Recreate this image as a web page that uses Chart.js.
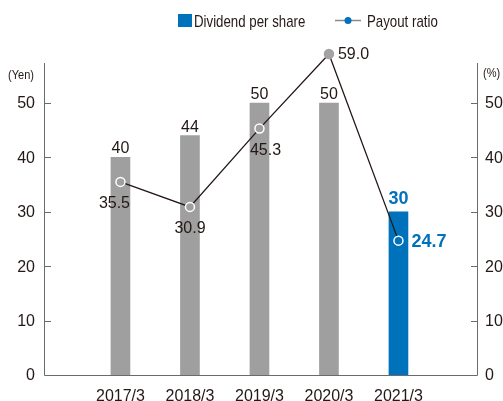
<!DOCTYPE html>
<html>
<head>
<meta charset="utf-8">
<script src="https://cdn.jsdelivr.net/npm/chart.js@4"></script>
<style>
  html, body { margin: 0; padding: 0; background: #fff; }
  #wrap { width: 503px; height: 401px; }
</style>
</head>
<body>
<div id="wrap"><canvas id="chart" width="503" height="401"></canvas></div>
<script>
// data
const categories = ['2017/3', '2018/3', '2019/3', '2020/3', '2021/3'];
const dividend = [40, 44, 50, 50, 30];
const payout = [35.5, 30.9, 45.3, 59.0, 24.7];
const yTicks = [0, 10, 20, 30, 40, 50];

// where each payout label sits relative to its point
const payoutLabelPos = ['below-left', 'below', 'below-right', 'right', 'right'];

const FONT = '"Liberation Sans", Arial, sans-serif';
const GREY = '#9f9f9f';
const BLUE = '#0072bc';
const TEXT = '#231815';
const AXIS = '#6b6b6b';
const AXIS_TOP = 57.35; // axis lines stop here, the 59.0 point sits above them

const barColors = dividend.map((v, i) => i === dividend.length - 1 ? BLUE : GREY);
const pointFill = payout.map((v, i) => i === 3 ? '#a3a3a3' : barColors[i]);
const pointBorder = payout.map((v, i) => i === 3 ? '#a3a3a3' : '#ffffff');

// canvas text with a horizontal squeeze (the original uses a condensed face)
function text(ctx, s, x, y, align, sx) {
  ctx.save();
  ctx.translate(x, y);
  ctx.scale(sx || 1, 1);
  ctx.textAlign = align;
  ctx.fillText(s, 0, 0);
  ctx.restore();
}

const decor = {
  id: 'decor',
  beforeDatasetsDraw(chart) {
    const ctx = chart.ctx;
    const a = chart.chartArea;
    const y = chart.scales.y;
    const top = y.getPixelForValue(AXIS_TOP);
    ctx.save();
    ctx.strokeStyle = AXIS;
    ctx.lineWidth = 1;
    ctx.beginPath();
    ctx.moveTo(a.left + 0.5, top);
    ctx.lineTo(a.left + 0.5, a.bottom + 0.5);
    ctx.lineTo(a.right + 0.5, a.bottom + 0.5);
    ctx.lineTo(a.right + 0.5, top);
    yTicks.forEach(t => {
      if (t === 0) return;
      const py = Math.round(y.getPixelForValue(t)) + 0.5;
      ctx.moveTo(a.left, py); ctx.lineTo(a.left + 7, py);
      ctx.moveTo(a.right + 1, py); ctx.lineTo(a.right - 6, py);
    });
    ctx.stroke();

    ctx.fillStyle = TEXT;
    ctx.font = '16px ' + FONT;
    ctx.textBaseline = 'middle';
    yTicks.forEach(t => {
      const py = y.getPixelForValue(t);
      text(ctx, String(t), a.left - 9, py + 1, 'right');
      text(ctx, String(t), a.right + 8, py + 1, 'left');
    });
    ctx.font = '12px ' + FONT;
    text(ctx, '(Yen)', 8, 76, 'left', 0.92);
    text(ctx, '(%)', 483, 74, 'left', 0.92);

    const x = chart.scales.x;
    ctx.font = '16px ' + FONT;
    ctx.textBaseline = 'alphabetic';
    categories.forEach((c, i) => {
      text(ctx, c, x.getPixelForValue(i), 401, 'center');
    });

    // legend
    ctx.fillStyle = BLUE;
    ctx.fillRect(178, 14, 14, 13);
    ctx.fillStyle = TEXT;
    ctx.font = '17px ' + FONT;
    ctx.textBaseline = 'alphabetic';
    text(ctx, 'Dividend per share', 194, 27, 'left', 0.78);
    ctx.strokeStyle = '#8a8a8a';
    ctx.lineWidth = 1.5;
    ctx.beginPath();
    ctx.moveTo(335, 20.5); ctx.lineTo(361, 20.5);
    ctx.stroke();
    ctx.fillStyle = BLUE;
    ctx.beginPath();
    ctx.arc(348, 20.5, 3.5, 0, Math.PI * 2);
    ctx.fill();
    ctx.fillStyle = TEXT;
    text(ctx, 'Payout ratio', 367, 27, 'left', 0.78);
    ctx.restore();
  },
  afterDatasetsDraw(chart) {
    const ctx = chart.ctx;
    const bars = chart.getDatasetMeta(1).data;
    const pts = chart.getDatasetMeta(0).data;
    ctx.save();
    ctx.textBaseline = 'alphabetic';
    bars.forEach((b, i) => {
      const last = i === bars.length - 1;
      ctx.fillStyle = last ? BLUE : TEXT;
      ctx.font = (last ? 'bold 18px ' : '16px ') + FONT;
      text(ctx, String(dividend[i]), b.x, b.y - (last ? 8 : 4), 'center');
    });
    ctx.textBaseline = 'middle';
    pts.forEach((p, i) => {
      const last = i === pts.length - 1;
      ctx.fillStyle = last ? BLUE : TEXT;
      ctx.font = (last ? 'bold 18px ' : '16px ') + FONT;
      const txt = payout[i].toFixed(1);
      const pos = payoutLabelPos[i];
      if (pos === 'right') {
        text(ctx, txt, p.x + (last ? 13 : 9), p.y + 1, 'left');
      } else {
        const dx = pos === 'below-left' ? -6 : pos === 'below-right' ? 6 : 0;
        text(ctx, txt, p.x + dx, p.y + 22, 'center');
      }
    });
    ctx.restore();
  }
};

new Chart(document.getElementById('chart').getContext('2d'), {
  type: 'bar',
  data: {
    datasets: [{
      type: 'line',
      label: 'Payout ratio',
      data: payout.map((v, i) => ({ x: i, y: v })),
      yAxisID: 'y2',
      borderColor: TEXT,
      borderWidth: 1.3,
      pointRadius: 4.5,
      pointBackgroundColor: pointFill,
      pointBorderColor: pointBorder,
      pointBorderWidth: 1.5,
      tension: 0,
      order: 0
    }, {
      type: 'bar',
      label: 'Dividend per share',
      data: dividend.map((v, i) => ({ x: i, y: v })),
      yAxisID: 'y',
      backgroundColor: barColors,
      barThickness: 19,
      order: 1
    }]
  },
  options: {
    responsive: false,
    animation: false,
    layout: { padding: { left: 44, right: 26, top: 43.16, bottom: 26 } },
    scales: {
      x: { type: 'linear', min: -1.1, max: 5.13, offset: false, display: false },
      y: { min: 0, max: 61, display: false },
      y2: { min: 0, max: 61, display: false, position: 'right' }
    },
    plugins: {
      legend: { display: false },
      tooltip: { enabled: false }
    }
  },
  plugins: [decor]
});
</script>
</body>
</html>
